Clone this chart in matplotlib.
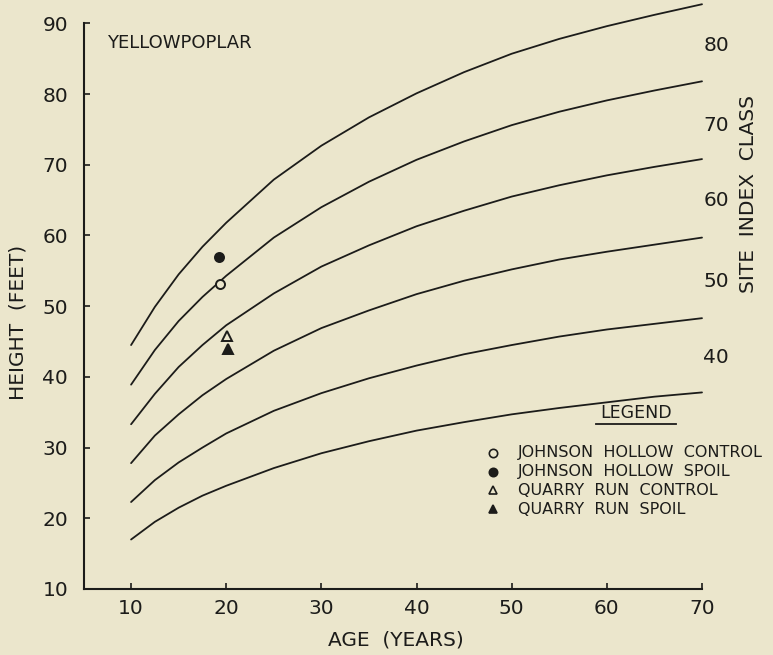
import matplotlib
matplotlib.use("Agg")
import matplotlib.pyplot as plt

# === Dati ===
ages = [10, 12.5, 15, 17.5, 20, 25, 30, 35, 40, 45, 50, 55, 60, 65, 70]

curve_1 = [44.5, 49.9, 54.5, 58.4, 61.8, 67.9, 72.7, 76.7, 80.1, 83.1, 85.7, 87.8, 89.6, 91.2, 92.7]
curve_2 = [38.9, 43.8, 47.9, 51.3, 54.3, 59.7, 64.0, 67.6, 70.7, 73.3, 75.6, 77.5, 79.1, 80.5, 81.8]
curve_3 = [33.3, 37.6, 41.4, 44.5, 47.3, 51.8, 55.6, 58.6, 61.3, 63.5, 65.5, 67.1, 68.5, 69.7, 70.8]
curve_4 = [27.8, 31.7, 34.7, 37.4, 39.7, 43.7, 46.9, 49.4, 51.7, 53.6, 55.2, 56.6, 57.7, 58.7, 59.7]
curve_5 = [22.3, 25.4, 27.9, 30.0, 32.0, 35.2, 37.7, 39.8, 41.6, 43.2, 44.5, 45.7, 46.7, 47.5, 48.3]
curve_6 = [17.0, 19.5, 21.5, 23.2, 24.6, 27.1, 29.2, 30.9, 32.4, 33.6, 34.7, 35.6, 36.4, 37.2, 37.8]
curves = [curve_1, curve_2, curve_3, curve_4, curve_5, curve_6]

site_labels = ["80", "70", "60", "50", "40"]
site_label_y = [86.8, 75.6, 65.0, 53.5, 42.7]

plot_names = ["JOHNSON  HOLLOW  CONTROL", "JOHNSON  HOLLOW  SPOIL",
              "QUARRY  RUN  CONTROL", "QUARRY  RUN  SPOIL"]
plot_age = [19.3, 19.2, 20.1, 20.2]
plot_height = [53.1, 56.9, 45.8, 43.9]
plot_marker = ["o", "o", "^", "^"]
plot_filled = [False, True, False, True]

# === Stile ===
bg = "#ebe6cc"
ink = "#1c1c1a"
plt.rcParams["font.family"] = ["DejaVu Sans"]

fig = plt.figure(figsize=(7.73, 6.55), dpi=100)
fig.patch.set_facecolor(bg)
ax = fig.add_axes([83.5 / 773, 66 / 655, (702 - 83.5) / 773, 589 / 655])
ax.set_facecolor(bg)
ax.set_xlim(5, 70)
ax.set_ylim(10, 93.3)

for c in curves:
    ax.plot(ages, c, color=ink, lw=1.3, solid_capstyle="round",
            solid_joinstyle="round", clip_on=False)

for a, h, m, f in zip(plot_age, plot_height, plot_marker, plot_filled):
    ax.plot(a, h, marker=m, ms=6.5, mew=1.4, color=ink,
            mfc=ink if f else bg, ls="none")

# === Assi ===
for s in ["top", "right"]:
    ax.spines[s].set_visible(False)
ax.spines["left"].set_bounds(10, 90)
ax.spines["bottom"].set_bounds(5, 70)
for s in ["left", "bottom"]:
    ax.spines[s].set_linewidth(1.5)
    ax.spines[s].set_color(ink)

ax.set_xticks(range(10, 71, 10))
ax.set_yticks(range(10, 91, 10))
ax.tick_params(axis="both", direction="in", length=4, width=1.2, color=ink,
               labelsize=14.5, labelcolor=ink)
ax.tick_params(axis="y", pad=11)
ax.tick_params(axis="x", pad=7)

fig.text(396 / 773, 15 / 655, "AGE  (YEARS)", ha="center", va="center",
         fontsize=14.5, color=ink)
fig.text(18 / 773, (655 - 322) / 655, "HEIGHT  (FEET)", ha="center", va="center",
         rotation=90, fontsize=14.5, color=ink)
fig.text(748 / 773, (655 - 194) / 655, "SITE  INDEX  CLASS", ha="center", va="center",
         rotation=90, fontsize=14.5, color=ink)

for lab, y in zip(site_labels, site_label_y):
    ax.text(71.5, y, lab, ha="center", va="center", fontsize=14.5, color=ink,
            clip_on=False)

ax.text(7.45, 87.2, "YELLOWPOPLAR", ha="left", va="center", fontsize=13, color=ink)

# === Legenda disegnata a mano ===
ax.text(63.1, 34.85, "LEGEND", ha="center", va="center", fontsize=12.5, color=ink)
ax.plot([58.9, 67.3], [33.3, 33.3], color=ink, lw=1.3)
legend_y = [29.3, 26.6, 24.0, 21.3]
for name, m, f, y in zip(plot_names, plot_marker, plot_filled, legend_y):
    ax.plot(48.05, y, marker=m, ms=6, mew=1.2, color=ink,
            mfc=ink if f else bg, ls="none")
    ax.text(50.7, y, name, ha="left", va="center", fontsize=11.5, color=ink)

fig.savefig("out.png", dpi=100, facecolor=bg)
